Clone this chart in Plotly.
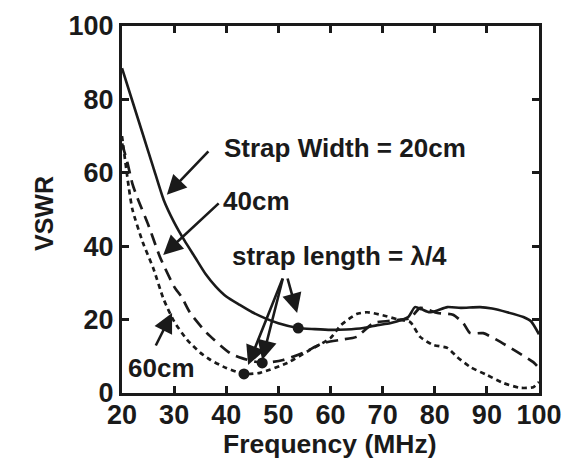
import plotly.graph_objects as go

# 20cm strap width (solid)
freq_20 = [20, 22, 24, 26, 28, 30, 32, 34, 36, 38, 40, 42.6, 45, 47.4, 50, 53.8, 57, 60, 63,
           66.3, 69, 71.4, 74.9, 76.2, 77.5, 79, 80.5, 82.4, 85, 88.7, 91, 93.9, 97, 98.5, 100]
vswr_20 = [88.5, 79.5, 70.5, 61.5, 52.6, 46.5, 41.5, 37, 32.5, 29, 26.3, 24, 22, 20.4, 19, 17.7, 17.4, 17.2, 17.3,
           17.7, 18.5, 19, 20.7, 23.4, 22.8, 22, 22.5, 23.4, 23.2, 23.4, 23.0, 22, 20.7, 19.5, 16]

# 40cm strap width (long dash)
freq_40 = [20, 21, 22, 23, 25, 27.3, 30, 31.5, 33, 36.3, 40.7, 43, 46.9, 50.9, 54.7, 58.6, 62, 65,
           68.2, 72.8, 75.3, 77.2, 80.5, 83.5, 85.5, 86.8, 89.3, 92, 95.8, 98.9, 100]
vswr_40 = [68, 63, 57, 53, 46, 37, 29, 26, 22, 16.3, 10.9, 9.5, 8.2, 9, 10.9, 13.6, 14.5, 15.3,
           19, 19.9, 20.4, 23.2, 21.8, 21.3, 19, 16.3, 16.3, 14.4, 11.2, 8.4, 6.8]

# 60cm strap width (short dash)
freq_60 = [20, 21.3, 22, 24, 26, 28, 30, 32.5, 35, 37, 40, 43.4, 46.5, 51.7, 56, 60, 62, 65, 67, 70,
           73, 75.3, 77.2, 79.7, 82.4, 84.3, 86.8, 90, 93.2, 96.4, 98.9, 100]
vswr_60 = [70, 56, 50, 41, 34, 25.5, 19.5, 14.5, 11, 9, 6.8, 5.2, 5.5, 8.2, 11.7, 15, 18.5, 21.5, 22, 21.2,
           20, 19.3, 15.3, 13.1, 12.3, 9.8, 7.1, 4.9, 2.7, 1.4, 1.6, 3]

# quarter-wave strap length points
qw_freq = [43.4, 46.9, 53.8]
qw_vswr = [5.2, 8.2, 17.7]

x_ticks = [20, 30, 40, 50, 60, 70, 80, 90, 100]
y_ticks = [0, 20, 40, 60, 80, 100]

FONT = "Liberation Sans, Arial, sans-serif"
INK = "#1a1a1a"

fig = go.Figure()
fig.add_trace(go.Scatter(x=freq_20, y=vswr_20, mode="lines",
                         line=dict(color=INK, width=2.6, shape="spline", smoothing=0.6)))
fig.add_trace(go.Scatter(x=freq_40, y=vswr_40, mode="lines",
                         line=dict(color=INK, width=2.7, dash="12px,7px", shape="spline", smoothing=0.6)))
fig.add_trace(go.Scatter(x=freq_60, y=vswr_60, mode="lines",
                         line=dict(color=INK, width=2.7, dash="5px,4px", shape="spline", smoothing=0.6)))
fig.add_trace(go.Scatter(x=qw_freq, y=qw_vswr, mode="markers",
                         marker=dict(color=INK, size=11)))

# target plot-area corners in page pixels (the page adds an 8px body margin)
L, R, T, B = 122, 539, 26, 393
OFF = 8
def px_to_data(px, py):
    return 20 + (px - L) / (R - L) * 80, (B - py) / (B - T) * 100
def px_to_paper(px, py):
    return (px - L) / (R - L), (B - py) / (B - T)

arrow = dict(showarrow=True, arrowhead=2, arrowsize=1.5, arrowwidth=2.6, arrowcolor=INK,
             xref="x", yref="y", axref="pixel", ayref="pixel", text="")
tfont = dict(family=FONT, size=26, color=INK, weight="bold")

annotations = [
    dict(x=28.6, y=54, ax=43, ay=-45, **arrow),
    dict(x=27.9, y=37.6, ax=57, ay=-53, **arrow),
    dict(x=29.6, y=21.8, ax=-17, ay=34, **arrow),
    dict(x=44.2, y=7.6, ax=283 - 248, ay=277 - 365, **arrow),
    dict(x=46.9, y=9.0, ax=283 - 262, ay=277 - 360, **arrow),
    dict(x=53.6, y=21.8, ax=287 - 297, ay=277 - 313, **arrow),
]
labels = [("Strap Width = 20cm", 345, 148), ("40cm", 256, 201),
          ("strap length = λ/4", 339, 256), ("60cm", 161, 368)]
for txt, px, py in labels:
    xd, yd = px_to_data(px, py)
    annotations.append(dict(x=xd, y=yd, xref="x", yref="y", text=txt, showarrow=False, font=tfont,
                            xanchor="center", yanchor="middle"))

# axis titles
xt, yt = px_to_paper(330, 444)
annotations.append(dict(x=xt, y=yt, xref="paper", yref="paper", text="Frequency (MHz)", showarrow=False,
                        xanchor="center", yanchor="middle",
                        font=dict(family=FONT, size=26.5, color=INK, weight="bold")))
xt, yt = px_to_paper(44, 214)
annotations.append(dict(x=xt, y=yt, xref="paper", yref="paper", text="VSWR", showarrow=False, textangle=-90,
                        xanchor="center", yanchor="middle",
                        font=dict(family=FONT, size=25, color=INK, weight="bold")))

W, H = 570, 459
fig.update_layout(
    width=W, height=H,
    margin=dict(l=L - OFF, r=W - (R - OFF), t=T - OFF, b=H - (B - OFF), autoexpand=False),
    paper_bgcolor="white", plot_bgcolor="white",
    showlegend=False,
    annotations=annotations,
)

axis_common = dict(showgrid=False, zeroline=False, showline=True, linecolor=INK, linewidth=3,
                   mirror="ticks", ticks="inside", ticklen=7, tickwidth=2.5, tickcolor=INK,
                   automargin=False,
                   tickfont=dict(family=FONT, size=27, color=INK, weight="bold"))
fig.update_xaxes(range=[20, 100], tickvals=x_ticks, ticktext=[str(v) for v in x_ticks],
                 ticklabelstandoff=-4, **axis_common)
fig.update_yaxes(range=[0, 100], tickvals=y_ticks, ticktext=[str(v) for v in y_ticks], **axis_common)

fig.write_html("out.html")
